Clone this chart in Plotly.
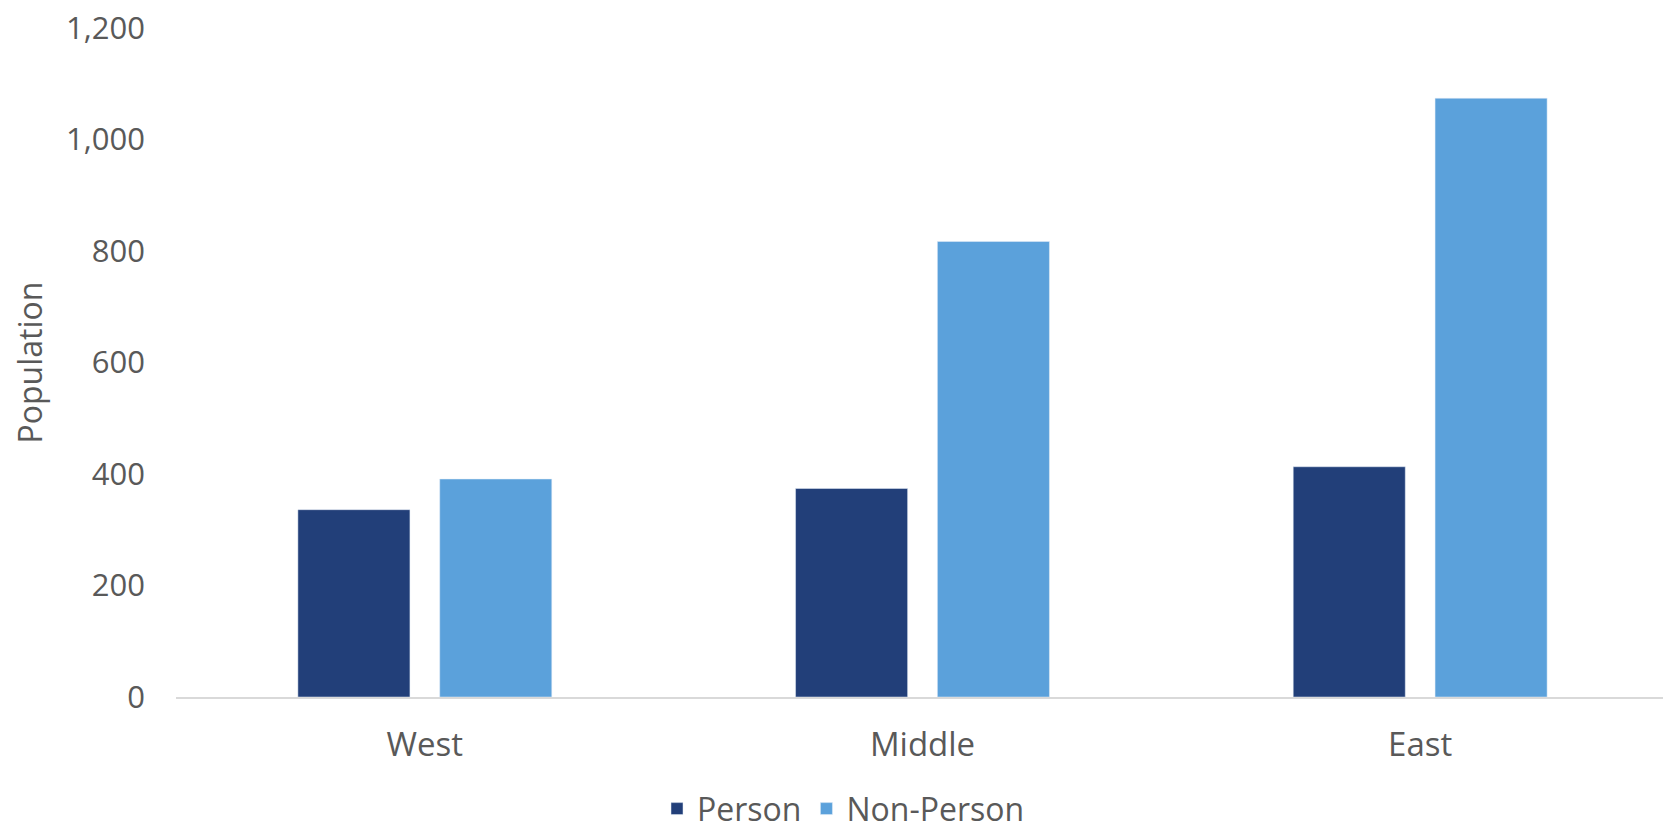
import plotly.graph_objects as go

categories = ["West", "Middle", "East"]
person = [336, 374, 413]
non_person = [391, 817, 1074]
y_ticks = [0, 200, 400, 600, 800, 1000, 1200]

fig = go.Figure()
fig.add_trace(go.Bar(name="Person", x=categories, y=person, marker_color="#223F79"))
fig.add_trace(go.Bar(name="Non-Person", x=categories, y=non_person, marker_color="#5BA1DB"))

W, H = 1671, 829
L, R, T, B = 168, 10, 20, 140
fig.update_layout(
    width=W, height=H,
    margin=dict(l=L, r=R, t=T, b=B, autoexpand=False),
    paper_bgcolor="white", plot_bgcolor="white",
    barmode="group", bargap=0.43, bargroupgap=0.21,
    font=dict(family="Open Sans", color="#595959"),
    showlegend=True,
    legend=dict(orientation="h", xref="container", yref="container",
                x=0.5, xanchor="center", y=0.034, yanchor="middle",
                font=dict(size=32, family="Open Sans", color="#595959"), itemwidth=30),
    xaxis=dict(showline=True, linecolor="#D9D9D9", linewidth=1.5, ticks="",
               ticklabelstandoff=18, automargin=False,
               tickfont=dict(size=33, family="Open Sans", color="#595959"),
               showgrid=False),
    yaxis=dict(range=[0, 1200], tickvals=y_ticks, tickformat=",", showgrid=False,
               zeroline=False, showline=False, ticks="", ticklabelstandoff=30,
               automargin=False, ticklabeloverflow="allow",
               tickfont=dict(size=31, family="Open Sans", color="#595959"),
               title=dict(text="Population", standoff=33,
                          font=dict(size=32, family="Open Sans", color="#595959"))),
)
fig.write_html("out.html")
